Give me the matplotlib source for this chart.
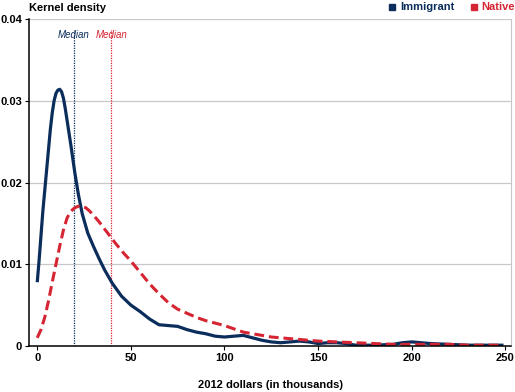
import matplotlib
matplotlib.use("Agg")
import matplotlib.pyplot as plt
from matplotlib.patches import Rectangle

plt.rcParams["font.family"] = ["Liberation Sans", "DejaVu Sans"]

NAVY = "#0b2d5c"; RED = "#d62532"

imm_x = [0, 1, 2, 3, 4, 5, 6, 7, 8, 9, 10, 11, 12, 13, 14, 15, 16, 18, 20, 22, 24, 27, 30, 33, 36, 40,
         45, 50, 55, 60, 65, 70, 75, 80, 85, 90, 95, 100, 105, 110, 115, 120, 125, 130, 135, 140, 145,
         150, 155, 160, 165, 170, 175, 180, 190, 195, 200, 205, 210, 220, 230, 240, 249]
imm_y = [0.0078, 0.0105, 0.0135, 0.0165, 0.0190, 0.0215, 0.0240, 0.0265, 0.0285, 0.0300, 0.0309, 0.0313,
         0.0314, 0.0311, 0.0303, 0.0290, 0.0275, 0.0245, 0.0213, 0.0185, 0.0162, 0.0138, 0.0122, 0.0107,
         0.0093, 0.0077, 0.0061, 0.0050, 0.0042, 0.0033, 0.0026, 0.0025, 0.0024, 0.0020, 0.0017, 0.0015,
         0.0012, 0.0011, 0.0012, 0.0013, 0.0010, 0.0007, 0.0005, 0.0004, 0.0005, 0.0006, 0.0005, 0.0003,
         0.0004, 0.0004, 0.0003, 0.0001, 0.0001, 0.0001, 0.0002, 0.0004, 0.0005, 0.0004, 0.0003, 0.0002,
         0.0001, 0.0001, 0.0001]

nat_x = [0, 2, 4, 6, 8, 10, 12, 14, 16, 18, 20, 22, 24, 26, 28, 30, 33, 36, 39, 42, 46, 50, 55, 60, 65,
         70, 75, 80, 85, 90, 95, 100, 105, 110, 115, 120, 125, 130, 140, 150, 160, 170, 180, 190, 200,
         210, 220, 230, 240, 248]
nat_y = [0.0010, 0.0020, 0.0035, 0.0055, 0.0078, 0.0100, 0.0122, 0.0142, 0.0157, 0.0165, 0.0169, 0.0171,
         0.0171, 0.0169, 0.0165, 0.0160, 0.0152, 0.0143, 0.0134, 0.0125, 0.0114, 0.0104, 0.0090, 0.0076,
         0.0064, 0.0053, 0.0045, 0.0040, 0.0035, 0.0031, 0.0028, 0.0025, 0.0021, 0.0017, 0.0015, 0.0013,
         0.0011, 0.0010, 0.0008, 0.0006, 0.0005, 0.0004, 0.0003, 0.0002, 0.0002, 0.0002, 0.0002, 0.0001,
         0.0001, 0.0001]

medians = {"Immigrant": 19.6, "Native": 39.5}
xticks = [0, 50, 100, 150, 200, 250]
yticks = [0, 0.01, 0.02, 0.03, 0.04]
ylabels = ["0", "0.01", "0.02", "0.03", "0.04"]

fig = plt.figure(figsize=(5.15, 3.92), dpi=100)
ax = fig.add_axes([29/515, 46/392, 482/515, 327/392])
ax.set_xlim(-4.4, 253); ax.set_ylim(0, 0.04)

for y in yticks[1:]:
    ax.axhline(y, color="#c8c8c8", lw=0.9, zorder=0)

ax.axvline(medians["Immigrant"], color=NAVY, ls=(0, (1, 1)), lw=0.9, ymax=0.965)
ax.axvline(medians["Native"], color=RED, ls=(0, (1, 1)), lw=0.9, ymax=0.965)
ax.text(medians["Immigrant"], 0.0381, "Median", color=NAVY, style="italic", fontsize=7, ha="center", va="center")
ax.text(medians["Native"], 0.0381, "Median", color=RED, style="italic", fontsize=7, ha="center", va="center")

ax.plot(imm_x, imm_y, color=NAVY, lw=2.3, solid_capstyle="butt")
ax.plot(nat_x, nat_y, color=RED, lw=2.2, ls=(0, (3.2, 1.6)))

ax.set_xticks(xticks); ax.set_yticks(yticks); ax.set_yticklabels(ylabels)
ax.tick_params(labelsize=8, length=3, width=0.8, pad=2)
for lab in ax.get_xticklabels() + ax.get_yticklabels():
    lab.set_fontweight("bold")
ax.spines["top"].set_visible(False)
ax.spines["right"].set_color("#c8c8c8")
ax.spines["left"].set_linewidth(1.1); ax.spines["bottom"].set_linewidth(1.1)
ax.set_xlabel("2012 dollars (in thousands)", fontsize=8, fontweight="bold", labelpad=12)

# title and hand-made legend
fig.text(29/515, 1 - 8/392, "Kernel density", fontsize=8, fontweight="bold", va="center")
fig.patches.append(Rectangle((389/515, 1 - 9.5/392), 6/515, 6/392, transform=fig.transFigure, color=NAVY))
fig.text(400/515, 1 - 7/392, "Immigrant", color=NAVY, fontsize=8, fontweight="bold", va="center")
fig.patches.append(Rectangle((471/515, 1 - 9.5/392), 6/515, 6/392, transform=fig.transFigure, color=RED))
fig.text(481/515, 1 - 7/392, "Native", color=RED, fontsize=8, fontweight="bold", va="center")

fig.savefig("out.png", dpi=100)
